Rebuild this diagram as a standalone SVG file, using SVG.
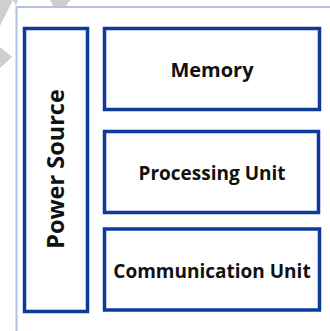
<svg xmlns="http://www.w3.org/2000/svg" width="330" height="331" viewBox="0 0 330 331">
<style>
.box{fill:#fff;stroke:#0d3a9b;stroke-width:3.5}
.lbl{font-family:"Open Sans","Liberation Sans",sans-serif;font-weight:bold;fill:#111;text-anchor:middle}
.wm{fill:#cfcfcf}
</style>
<rect width="330" height="331" fill="#fff"/>
<g id="watermark">
<polygon class="wm" points="0,0 13,0 0,26"/>
<polygon class="wm" points="13,0 18,0 16,6"/>
<polygon class="wm" points="50,0 70,0 66,6 53,6"/>
<polygon class="wm" points="0,47 12,57 0,68"/>
</g>
<path d="M16.5,331 V7 H330" fill="none" stroke="#b4c0e4" stroke-width="2"/>
<g id="power-source">
<rect class="box" x="24.5" y="28.5" width="63" height="283"/>
<text class="lbl" transform="translate(64,169) rotate(-90)" font-size="23.5">Power Source</text>
</g>
<g id="memory">
<rect class="box" x="104.5" y="28.5" width="215" height="81"/>
<text class="lbl" x="212" y="77" font-size="20">Memory</text>
</g>
<g id="processing-unit">
<rect class="box" x="104.5" y="131.5" width="214" height="81"/>
<text class="lbl" x="212" y="180" font-size="19">Processing Unit</text>
</g>
<g id="communication-unit">
<rect class="box" x="104.5" y="229" width="215" height="81"/>
<text class="lbl" x="212" y="278" font-size="19">Communication Unit</text>
</g>
<g id="connectors"/>
</svg>
